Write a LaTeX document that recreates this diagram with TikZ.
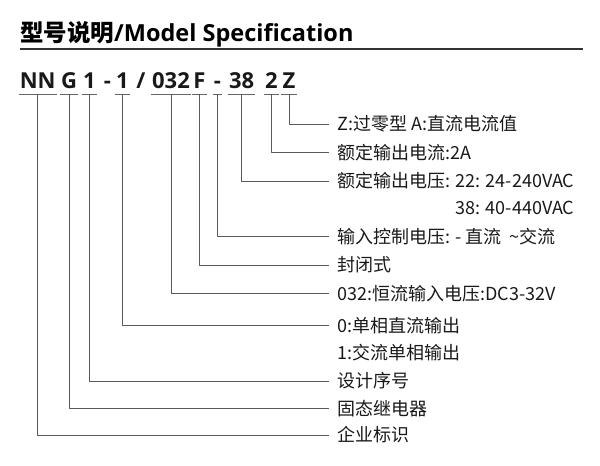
\documentclass[tikz,border=0pt]{standalone}
\usepackage{fontspec}
\setmainfont{Noto Sans CJK SC}
\newfontfamily\codefont{Open Sans}
\newfontfamily\cjkfont{Noto Sans CJK SC}
\tikzset{
  codebit/.style={font=\codefont\bfseries\fontsize{22}{26}\selectfont, anchor=base,
    inner xsep=1pt, inner ysep=5.5pt, text depth=0pt, minimum width=9pt, text=black!90},
  desc/.style={font=\fontsize{18}{22}\selectfont, anchor=west, inner sep=0pt,
    text height=15.8pt, text depth=2.2pt, text=black!90},
  rule/.style={draw=black!60, line width=1pt},
  lead/.style={draw=black!65, line width=1pt}
}
\begin{document}
\begin{tikzpicture}[x=1pt, y=-1pt, line join=round]
	\useasboundingbox (0,0) rectangle (600,466);
	% Titel
	\node[anchor=base west, inner sep=0pt, font=\fontsize{23.5}{28}\selectfont\bfseries] (title) at (20,41.5)
		{{\cjkfont 型号说明}{\codefont /Model Specification}};
	\draw[black!80, line width=2pt] (20,49.3)--(583,49.3);
	% Modellcode
	\node[codebit] (nn) at (37.7,88.5) {NN};
	\node[codebit] (g) at (69,88.5) {G};
	\node[codebit] (ser) at (89.3,88.5) {1};
	\node[codebit] (dasha) at (107.5,88.5) {-};
	\node[codebit] (out) at (122.3,88.5) {1};
	\node[codebit] (slash) at (141,88.5) {/};
	\node[codebit] (ctl) at (171,88.5) {032};
	\node[codebit] (pkg) at (199.3,88.5) {F};
	\node[codebit] (dashb) at (217.3,88.5) {-};
	\node[codebit] (volt) at (241.7,88.5) {38};
	\node[codebit] (cur) at (271.3,88.5) {2};
	\node[codebit] (zc) at (289,88.5) {Z};
	\foreach \n in {nn,g,ser,out,ctl,pkg,dashb,volt,cur,zc}
		\draw[rule] (\n.south west)--(\n.south east);
	% Erklaerungen
	\node[desc] (lz) at (337,124) {Z:过零型 A:直流电流值};
	\node[desc] (lcur) at (337,152.7) {额定输出电流:2A};
	\node[desc] (lvolt) at (337,181) {额定输出电压: 22: 24-240VAC};
	\node[desc, anchor=east] (lvoltb) at (lvolt.east |- 0,207.5) {38: 40-440VAC};
	\node[desc] (ldash) at (337,236.7) {输入控制电压: - 直流\ \ \textasciitilde 交流};
	\node[desc] (lpkg) at (337,265) {封闭式};
	\node[desc] (lctl) at (337,293.5) {032:恒流输入电压:DC3-32V};
	\node[desc] (lout) at (337,325.5) {0:单相直流输出};
	\node[desc] (loutb) at (337,353) {1:交流单相输出};
	\node[desc] (lser) at (337,381) {设计序号};
	\node[desc] (lg) at (337,408.5) {固态继电器};
	\node[desc] (lnn) at (337,435) {企业标识};
	% Linien
	\foreach \c/\l in {zc/lz,cur/lcur,volt/lvolt,dashb/ldash,pkg/lpkg,ctl/lctl,out/lout,ser/lser,g/lg,nn/lnn}
		\draw[lead] (\c.south) |- ([xshift=-8pt]\l.west);
\end{tikzpicture}
\end{document}
